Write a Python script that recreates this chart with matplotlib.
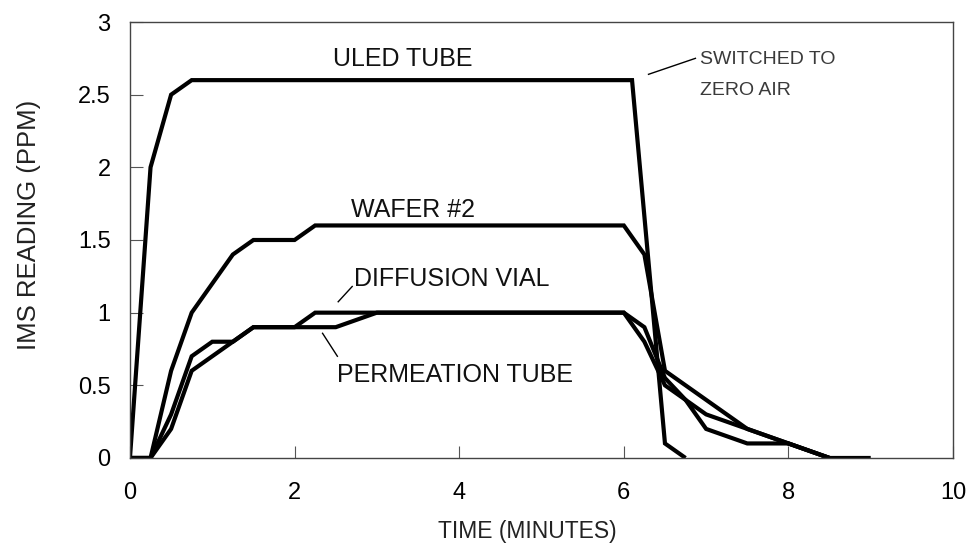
import matplotlib
matplotlib.use("Agg")
import matplotlib.pyplot as plt

plt.rcParams['font.family'] = ['Liberation Sans', 'DejaVu Sans']

# IMS response of each vapour source (time in minutes, reading in ppm)
uled_t = [0, 0.25, 0.5, 0.75, 6.1, 6.5, 6.75]
uled_y = [0, 2.0, 2.5, 2.6, 2.6, 0.1, 0.0]

wafer_t = [0, 0.25, 0.5, 0.75, 1.25, 1.5, 2.0, 2.25, 6.0, 6.25, 6.5, 7.5, 8.0, 8.5, 9.0]
wafer_y = [0, 0, 0.6, 1.0, 1.4, 1.5, 1.5, 1.6, 1.6, 1.4, 0.6, 0.2, 0.1, 0.0, 0.0]

diff_t = [0, 0.25, 0.5, 0.75, 1.0, 1.25, 1.5, 2.0, 2.25, 3.0, 6.0, 6.25, 6.5, 6.75, 7.0, 7.5, 8.0, 8.5]
diff_y = [0, 0, 0.3, 0.7, 0.8, 0.8, 0.9, 0.9, 1.0, 1.0, 1.0, 0.9, 0.55, 0.4, 0.3, 0.2, 0.1, 0.0]

perm_t = [0, 0.25, 0.5, 0.75, 1.5, 2.0, 2.5, 3.0, 6.0, 6.25, 6.5, 6.75, 7.0, 7.5, 8.0, 8.5]
perm_y = [0, 0, 0.2, 0.6, 0.9, 0.9, 0.9, 1.0, 1.0, 0.8, 0.5, 0.4, 0.2, 0.1, 0.1, 0.0]

x_ticks = [0, 2, 4, 6, 8, 10]
y_ticks = [0, 0.5, 1, 1.5, 2, 2.5, 3]
y_tick_labels = ["0", "0.5", "1", "1.5", "2", "2.5", "3"]

fig = plt.figure(figsize=(9.72, 5.46), dpi=100)
ax = fig.add_axes([0.1337, 0.1612, 0.8468, 0.7985])

for t, y in [(uled_t, uled_y), (wafer_t, wafer_y), (diff_t, diff_y), (perm_t, perm_y)]:
    ax.plot(t, y, color='black', lw=3.0, solid_joinstyle='miter', solid_capstyle='butt')

ax.set_xlim(0, 10)
ax.set_ylim(0, 3)
ax.set_xticks(x_ticks)
ax.set_yticks(y_ticks)
ax.set_yticklabels(y_tick_labels)
ax.tick_params(direction='in', length=9, width=0.8, color='#555555',
               labelsize=17, labelcolor='black')
ax.tick_params(axis='x', pad=17)
ax.tick_params(axis='y', pad=14)
for s in ax.spines.values():
    s.set_color('#444444')
    s.set_linewidth(1.0)

ax.set_xlabel("TIME (MINUTES)", fontsize=16.5, color='#222222')
ax.xaxis.set_label_coords(0.483, -0.142)
ax.set_ylabel("IMS READING (PPM)", fontsize=18.5, color='#222222')
ax.yaxis.set_label_coords(-0.108, 0.534)

# Curve labels
lab = dict(fontsize=18, color='#111111', va='baseline', ha='left')
ax.text(2.47, 2.70, "ULED TUBE", **lab)
ax.text(2.68, 1.655, "WAFER #2", **lab)
ax.text(2.72, 1.18, "DIFFUSION VIAL", **lab)
ax.text(2.52, 0.526, "PERMEATION TUBE", **lab)
ax.text(6.93, 2.71, "SWITCHED TO", fontsize=14, color='#3a3a3a', va='baseline', ha='left')
ax.text(6.93, 2.50, "ZERO AIR", fontsize=14, color='#3a3a3a', va='baseline', ha='left')

# Leader lines
lead = dict(color='black', lw=1.0)
ax.plot([6.30, 6.87], [2.64, 2.75], **lead)
ax.plot([2.53, 2.70], [1.075, 1.18], **lead)
ax.plot([2.34, 2.52], [0.858, 0.70], **lead)

fig.savefig("out.png", dpi=100)
